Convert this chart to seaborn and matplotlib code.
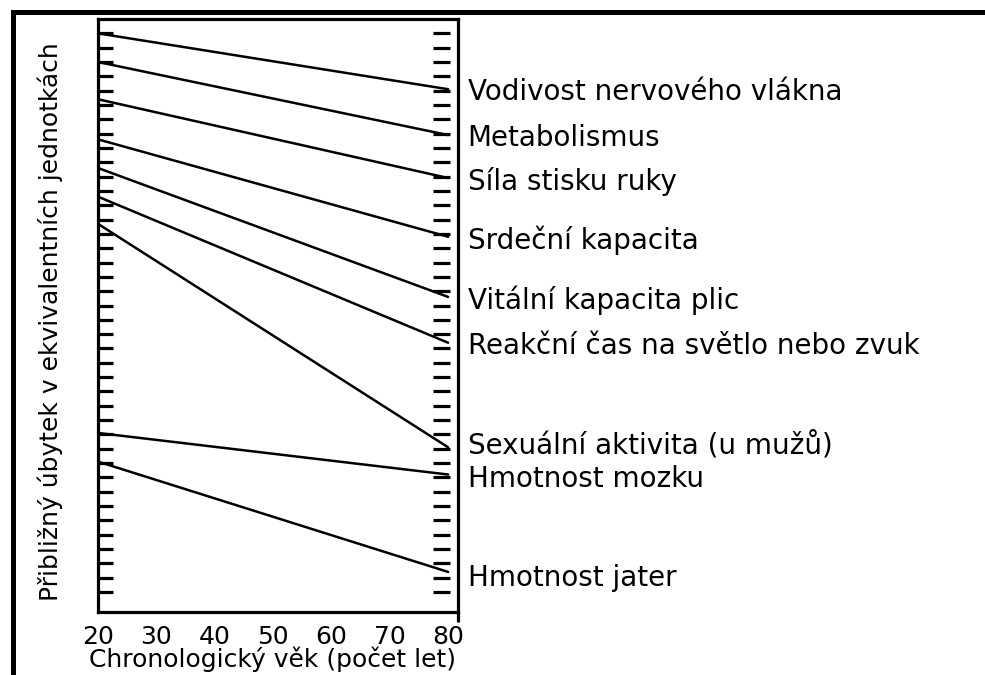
import numpy as np
import pandas as pd
import seaborn as sns
import matplotlib
matplotlib.use("Agg")
import matplotlib.pyplot as plt
from matplotlib.lines import Line2D

# values (arbitrary equivalent units)
measures = [
    "Vodivost nervového vlákna",
    "Metabolismus",
    "Síla stisku ruky",
    "Srdeční kapacita",
    "Vitální kapacita plic",
    "Reakční čas na světlo nebo zvuk",
    "Sexuální aktivita (u mužů)",
    "Hmotnost mozku",
    "Hmotnost jater",
]
ages = [20, 80]
start_values = [39.0, 37.0, 34.4, 31.6, 29.6, 27.6, 25.7, 11.1, 9.1]
end_values = [35.1, 31.9, 28.9, 24.8, 20.6, 17.4, 10.1, 8.2, 1.4]
label_offsets = [0, 0, 0, 0, 0, 0, 0.35, -0.1, -0.2]
age_ticks = [20, 30, 40, 50, 60, 70, 80]
scale_ticks = list(range(40))

rows = []
for name, v0, v1 in zip(measures, start_values, end_values):
    rows.append({"measure": name, "age": ages[0], "value": v0})
    rows.append({"measure": name, "age": ages[1], "value": v1})
df = pd.DataFrame(rows)

sns.set_style("white")
plt.rcParams["font.family"] = ["DejaVu Sans"]
plt.rcParams["text.color"] = "black"
plt.rcParams["axes.labelcolor"] = "black"
plt.rcParams["xtick.color"] = "black"
plt.rcParams["ytick.color"] = "black"

fig = plt.figure(figsize=(9.85, 6.75), dpi=100)
ax = fig.add_axes([0.0995, 0.0933, 0.3655, 0.8785])

sns.lineplot(data=df, x="age", y="value", units="measure", estimator=None,
             color="black", linewidth=1.8, legend=False, ax=ax)

ax.set_xlim(20, 81.7)
ax.set_ylim(-1.4, 40)

for s in ax.spines.values():
    s.set_visible(True)
    s.set_color("black")
    s.set_linewidth(2.3)

# scale on the left spine
ax.set_yticks(scale_ticks)
ax.set_yticklabels([])
ax.tick_params(axis="y", which="major", direction="in", length=11,
               width=2.3, color="black", left=True, right=False)

# matching scale dashes at the right end of the lines
ax.hlines(scale_ticks, 77.4, 80.3, color="black", linewidth=2.3)

ax.set_xticks(age_ticks)
ax.set_xticklabels([str(a) for a in age_ticks], fontsize=18, color="black")
ax.tick_params(axis="x", which="major", length=0, pad=9)
ax.set_xticks([20, 81.7], minor=True)
ax.tick_params(axis="x", which="minor", direction="out", length=7,
               width=2.3, color="black", bottom=True)

ax.set_xlabel("Chronologický věk (počet let)", fontsize=18, color="black")
ax.xaxis.set_label_coords(0.486, -0.058)
ax.set_ylabel("Přibližný úbytek v ekvivalentních jednotkách", fontsize=18,
              color="black")
ax.yaxis.set_label_coords(-0.097, 0.489)

for name, v1, off in zip(measures, end_values, label_offsets):
    ax.annotate(name, xy=(1, v1 + off), xycoords=("axes fraction", "data"),
                xytext=(7, 0), textcoords="offset points",
                va="center_baseline", ha="left", fontsize=20, color="black")

# outer frame (top and left edges)
fig.add_artist(Line2D([0.0127, 1.0], [0.9815, 0.9815], color="black",
                      linewidth=3.6, transform=fig.transFigure))
fig.add_artist(Line2D([0.0127, 0.0127], [0.0, 0.9815], color="black",
                      linewidth=3.6, transform=fig.transFigure,
                      solid_capstyle="projecting"))

fig.savefig("out.png", dpi=100)
